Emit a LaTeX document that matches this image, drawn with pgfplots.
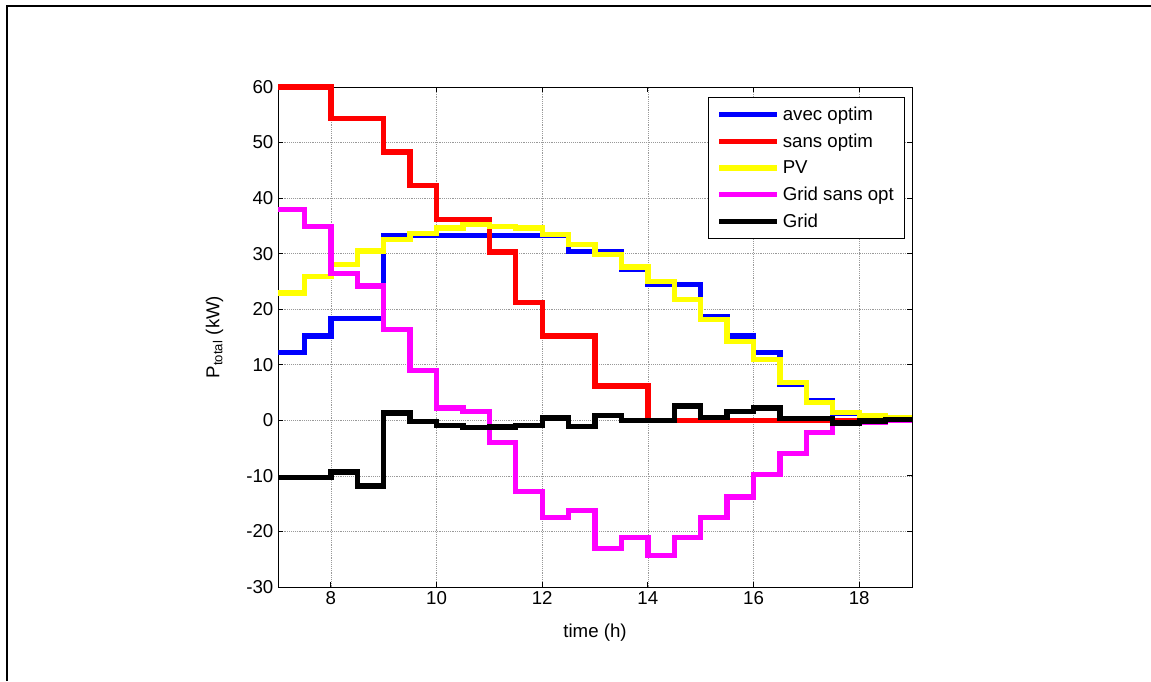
\documentclass[border=0pt]{standalone}
\usepackage{pgfplots}
\pgfplotsset{compat=1.18}
\usepackage{fontspec}
\setmainfont{Liberation Sans}
\definecolor{myyellow}{RGB}{255,255,0}
\definecolor{mymagenta}{RGB}{255,0,255}
\definecolor{myblue}{RGB}{0,0,255}
\definecolor{myred}{RGB}{255,0,0}
\begin{document}
\begin{tikzpicture}
\useasboundingbox (0pt,0pt) rectangle (863.25pt,510.75pt);
\draw[line width=1.2pt] (5.25pt,0pt) -- (5.25pt,506.25pt) -- (863.25pt,506.25pt);
\begin{axis}[
  at={(208.5pt,70.5pt)}, anchor=south west,
  scale only axis, width=475.5pt, height=375pt,
  xmin=7, xmax=19, ymin=-30, ymax=60,
  xtick={8,10,12,14,16,18}, ytick={-30,-20,-10,0,10,20,30,40,50,60},
  grid=major,
  major grid style={densely dotted, gray!80, line width=0.5pt},
  axis line style={line width=0.6pt},
  tick style={black, line width=0.6pt},
  major tick length=3.5pt,
  tick align=inside,
  clip=false,
  /pgf/number format/assume math mode=true,
  ticklabel style={font=\fontsize{14}{16}\selectfont},
  every axis x label/.style={at={(axis description cs:0.5,-0.092)}, anchor=center},
  every axis y label/.style={at={(axis description cs:-0.1,0.5)}, anchor=center, rotate=90},
  label style={font=\fontsize{14}{16}\selectfont},
  xlabel={time (h)},
  ylabel={P\textsubscript{total} (kW)},
  legend style={at={(rel axis cs:1,1)}, xshift=-5.25pt, yshift=-7.5pt, anchor=north east,
    font=\fontsize{14}{16}\selectfont, draw=black, line width=0.8pt,
    row sep=4.5pt, inner xsep=6pt, inner ysep=5pt, cells={anchor=west}},
  legend image code/.code={\draw[#1, line width=4pt] (0pt,0pt) -- (43.5pt,0pt);},
  every axis plot/.append style={line width=4pt, const plot},
]
\addplot[myblue] coordinates {(7,12.2) (7.5,15.2) (8,18.3) (8.5,18.3) (9,33.3) (9.5,33.3) (10,33.3) (10.5,33.3) (11,33.3) (11.5,33.3) (12,33.3) (12.5,30.4) (13,30.4) (13.5,27.2) (14,24.4) (14.5,24.4) (15,18.6) (15.5,15.2) (16,12.2) (16.5,6.4) (17,3.6) (17.5,1.2) (18,0.6) (18.5,0.3) (19,0.3)};
\addlegendentry{avec optim}
\addplot[myred] coordinates {(7,60) (7.5,60) (8,54.3) (8.5,54.3) (9,48.3) (9.5,42.3) (10,36.2) (10.5,36.2) (11,30.3) (11.5,21.2) (12,15.2) (12.5,15.2) (13,6.2) (13.5,6.2) (14,0) (14.5,0) (15,0) (15.5,0) (16,0) (16.5,0) (17,0) (17.5,0) (18,0) (18.5,0) (19,0)};
\addlegendentry{sans optim}
\addplot[myyellow] coordinates {(7,22.9) (7.5,25.9) (8,28.1) (8.5,30.5) (9,32.5) (9.5,33.6) (10,34.6) (10.5,35.3) (11,34.9) (11.5,34.6) (12,33.5) (12.5,31.7) (13,29.9) (13.5,27.6) (14,25.0) (14.5,21.8) (15,18.2) (15.5,14.2) (16,11.0) (16.5,6.8) (17,3.2) (17.5,1.4) (18,0.9) (18.5,0.5) (19,0.5)};
\addlegendentry{PV}
\addplot[mymagenta] coordinates {(7,37.9) (7.5,34.9) (8,26.4) (8.5,24.2) (9,16.3) (9.5,9.0) (10,2.2) (10.5,1.6) (11,-4.0) (11.5,-12.8) (12,-17.5) (12.5,-16.2) (13,-23.1) (13.5,-21.1) (14,-24.3) (14.5,-21.1) (15,-17.5) (15.5,-13.8) (16,-9.8) (16.5,-6.0) (17,-2.2) (17.5,-0.5) (18,-0.4) (18.5,0) (19,0)};
\addlegendentry{Grid sans opt}
\addplot[black] coordinates {(7,-10.3) (7.5,-10.3) (8,-9.3) (8.5,-11.8) (9,1.3) (9.5,-0.2) (10,-0.9) (10.5,-1.3) (11,-1.2) (11.5,-0.9) (12,0.4) (12.5,-1.1) (13,0.9) (13.5,0.0) (14,0.0) (14.5,2.6) (15,0.5) (15.5,1.6) (16,2.2) (16.5,0.3) (17,0.3) (17.5,-0.5) (18,-0.1) (18.5,0.1) (19,0.1)};
\addlegendentry{Grid}
\end{axis}
\end{tikzpicture}
\end{document}
